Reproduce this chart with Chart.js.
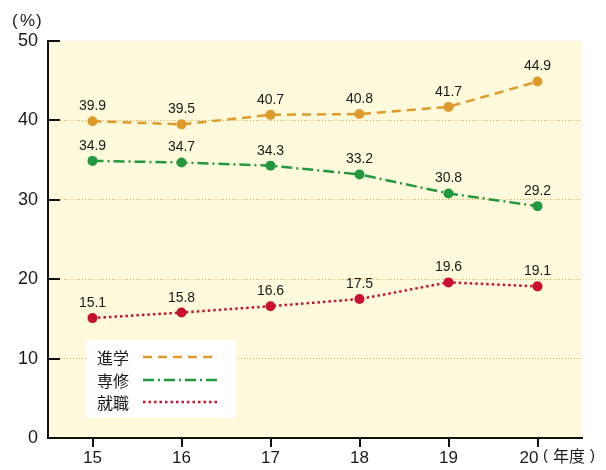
<!DOCTYPE html>
<html><head><meta charset="utf-8">
<script src="https://cdn.jsdelivr.net/npm/chart.js@4/dist/chart.umd.min.js"></script>
<style>html,body{margin:0;padding:0;background:#fff}#wrap{width:606px;height:470px;position:relative}</style>
</head><body><div id="wrap"><canvas id="c" width="606" height="470"></canvas></div>
<script>
const categories = ['15','16','17','18','19','20'];
const shingaku = [39.9, 39.5, 40.7, 40.8, 41.7, 44.9];
const senshu = [34.9, 34.7, 34.3, 33.2, 30.8, 29.2];
const shushoku = [15.1, 15.8, 16.6, 17.5, 19.6, 19.1];
const seriesNames = ['進学','専修','就職'];
const yTicks = [0,10,20,30,40,50];

const colors = ['#DE9B2B','#23983E','#C9102F'];
const dashes = [[9,6],[11,4,2,4],[2.5,3]];
const NUMFONT = '"Liberation Sans", Arial, sans-serif';
const JPFONT = '"Noto Sans CJK JP", sans-serif';

const bgPlugin = {
  id:'bg',
  beforeDraw(chart){
    const {ctx, chartArea:a} = chart;
    ctx.save(); ctx.fillStyle='#FEFADB';
    ctx.fillRect(a.left, a.top, a.right-a.left, a.bottom-a.top);
    ctx.restore();
  },
  afterDraw(chart){
    const {ctx, chartArea:a, scales} = chart;
    const ys = scales.y;
    ctx.save();
    ctx.strokeStyle='#111'; ctx.lineWidth=2;
    yTicks.forEach(v=>{ if(v===0) return; const y=Math.round(ys.getPixelForValue(v)); ctx.beginPath(); ctx.moveTo(a.left, y); ctx.lineTo(a.left+12, y); ctx.stroke(); });
    ctx.fillStyle='#1a1a1a'; ctx.font='14px '+NUMFONT; ctx.textAlign='center'; ctx.textBaseline='alphabetic';
    chart.data.datasets.forEach((ds,di)=>{
      const meta = chart.getDatasetMeta(di);
      meta.data.forEach((pt,i)=>{ ctx.fillText(ds.data[i].toFixed(1), pt.x, pt.y-11); });
    });
    ctx.fillStyle='#fff'; ctx.fillRect(86,340,150,78);
    const ly=[357,380,402];
    seriesNames.forEach((n,i)=>{
      ctx.fillStyle='#1a1a1a'; ctx.font='16px '+JPFONT; ctx.textAlign='left'; ctx.textBaseline='middle';
      ctx.fillText(n, 97, ly[i]+1);
      ctx.strokeStyle=colors[i]; ctx.lineWidth=2.5; ctx.setLineDash(dashes[i]);
      ctx.beginPath(); ctx.moveTo(143, ly[i]); ctx.lineTo(217, ly[i]); ctx.stroke();
      ctx.setLineDash([]);
    });
    ctx.fillStyle='#1a1a1a'; ctx.textBaseline='middle'; ctx.textAlign='left';
    ctx.font='17px '+NUMFONT;
    ctx.fillText('(', 12, 21); ctx.fillText('%', 20, 21); ctx.fillText(')', 36, 21);
    ctx.font='15px '+NUMFONT;
    ctx.fillText('(', 543, 456); ctx.fillText(')', 590, 456);
    ctx.font='16px '+JPFONT;
    ctx.fillText('年度', 553, 456);
    ctx.restore();
  }
};

new Chart(document.getElementById('c'), {
  type:'line',
  data:{
    labels: categories,
    datasets:[shingaku, senshu, shushoku].map((d,i)=>({
      label: seriesNames[i], data: d,
      borderColor: colors[i], backgroundColor: colors[i],
      borderWidth: 2.5, borderDash: dashes[i],
      pointRadius: 5, pointHoverRadius: 5, pointBorderWidth: 0,
      tension: 0, fill: false
    }))
  },
  options:{
    responsive:false, animation:false,
    layout:{padding:{left:0,right:24,top:41,bottom:0}},
    plugins:{legend:{display:false}, tooltip:{enabled:false}},
    scales:{
      x:{
        offset:true,
        grid:{drawOnChartArea:false, drawTicks:true, tickLength:9, color:'#111', lineWidth:2},
        border:{color:'#111', width:2},
        ticks:{color:'#1a1a1a', font:{family:NUMFONT, size:17}, padding:1, maxRotation:0,
          callback(v, i){ const l = this.getLabelForValue(v); return i === categories.length-1 ? l + '\u2003' : l; }},
        afterFit(s){ s.height = 32; }
      },
      y:{
        min:0, max:50,
        afterBuildTicks(s){ s.ticks = yTicks.map(v=>({value:v})); },
        grid:{drawTicks:false, lineWidth:1,
          color:(c)=> (c.tick && (c.tick.value===0||c.tick.value===50)) ? 'rgba(0,0,0,0)' : '#E6A84A'},
        border:{color:'#111', width:2, dash:[1,2]},
        ticks:{color:'#1a1a1a', font:{family:NUMFONT, size:18}, padding:10},
        afterFit(s){ s.width = 48; }
      }
    }
  },
  plugins:[bgPlugin]
});
</script></body></html>
